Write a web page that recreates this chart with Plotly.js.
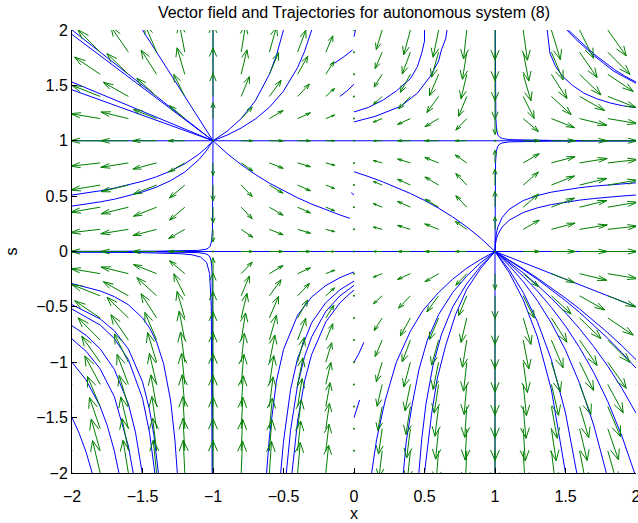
<!DOCTYPE html>
<html><head><meta charset="utf-8">
<script src="https://cdn.plot.ly/plotly-3.0.1.min.js"></script>
<style>html,body{margin:0;padding:0;background:#fff}</style>
</head><body>
<div id="chart" style="width:638px;height:523px"></div>
<script>
// grid of the vector field
const gridX = [-2,-1.8,-1.6,-1.4,-1.2,-1,-0.8,-0.6,-0.4,-0.2,0,0.2,0.4,0.6,0.8,1,1.2,1.4,1.6,1.8,2];
const gridS = [-2,-1.8,-1.6,-1.4,-1.2,-1,-0.8,-0.6,-0.4,-0.2,0,0.2,0.4,0.6,0.8,1,1.2,1.4,1.6,1.8,2];

// drawn arrow components (data units), rows follow gridS, columns follow gridX
const arrowU = [
 [-0.072,-0.054,-0.038,-0.024,-0.011,0,0.009,0.015,0.019,0.020,0,-0.020,-0.019,-0.015,-0.009,0,0.011,0.024,0.038,0.054,0.072],
 [-0.083,-0.064,-0.045,-0.028,-0.013,0,0.010,0.018,0.022,0.023,0,-0.023,-0.022,-0.018,-0.010,0,0.013,0.028,0.045,0.064,0.083],
 [-0.098,-0.076,-0.054,-0.034,-0.015,0,0.012,0.021,0.026,0.026,0,-0.026,-0.026,-0.021,-0.012,0,0.015,0.034,0.054,0.076,0.098],
 [-0.115,-0.090,-0.065,-0.041,-0.019,0,0.015,0.026,0.032,0.031,0,-0.031,-0.032,-0.026,-0.015,0,0.019,0.041,0.065,0.090,0.115],
 [-0.135,-0.109,-0.080,-0.051,-0.023,0,0.019,0.031,0.038,0.036,0,-0.036,-0.038,-0.031,-0.019,0,0.023,0.051,0.080,0.109,0.135],
 [-0.158,-0.131,-0.099,-0.064,-0.030,0,0.023,0.039,0.047,0.042,0,-0.042,-0.047,-0.039,-0.023,0,0.030,0.064,0.099,0.131,0.158],
 [-0.181,-0.157,-0.124,-0.083,-0.040,0,0.031,0.050,0.058,0.050,0,-0.050,-0.058,-0.050,-0.031,0,0.040,0.083,0.124,0.157,0.181],
 [-0.200,-0.181,-0.152,-0.110,-0.055,0,0.041,0.065,0.071,0.057,0,-0.057,-0.071,-0.065,-0.041,0,0.055,0.110,0.152,0.181,0.200],
 [-0.213,-0.200,-0.178,-0.140,-0.078,0,0.058,0.083,0.084,0.062,0,-0.062,-0.084,-0.083,-0.058,0,0.078,0.140,0.178,0.200,0.213],
 [-0.219,-0.210,-0.194,-0.164,-0.108,0,0.078,0.097,0.091,0.063,0,-0.063,-0.091,-0.097,-0.078,0,0.108,0.164,0.194,0.210,0.219],
 [-0.221,-0.212,-0.198,-0.171,-0.118,0,0.083,0.099,0.091,0.062,0,-0.062,-0.091,-0.099,-0.083,0,0.118,0.171,0.198,0.212,0.221],
 [-0.220,-0.211,-0.196,-0.168,-0.114,0,0.082,0.098,0.091,0.063,0,-0.063,-0.091,-0.098,-0.082,0,0.114,0.168,0.196,0.211,0.220],
 [-0.219,-0.210,-0.194,-0.164,-0.108,0,0.078,0.097,0.091,0.063,0,-0.063,-0.091,-0.097,-0.078,0,0.108,0.164,0.194,0.210,0.219],
 [-0.219,-0.210,-0.194,-0.164,-0.108,0,0.078,0.097,0.091,0.063,0,-0.063,-0.091,-0.097,-0.078,0,0.108,0.164,0.194,0.210,0.219],
 [-0.220,-0.211,-0.196,-0.168,-0.114,0,0.082,0.098,0.091,0.063,0,-0.063,-0.091,-0.098,-0.082,0,0.114,0.168,0.196,0.211,0.220],
 [-0.221,-0.212,-0.198,-0.171,-0.118,0,0.083,0.099,0.091,0.062,0,-0.062,-0.091,-0.099,-0.083,0,0.118,0.171,0.198,0.212,0.221],
 [-0.219,-0.210,-0.194,-0.164,-0.108,0,0.078,0.097,0.091,0.063,0,-0.063,-0.091,-0.097,-0.078,0,0.108,0.164,0.194,0.210,0.219],
 [-0.213,-0.200,-0.178,-0.140,-0.078,0,0.058,0.083,0.084,0.062,0,-0.062,-0.084,-0.083,-0.058,0,0.078,0.140,0.178,0.200,0.213],
 [-0.200,-0.181,-0.152,-0.110,-0.055,0,0.041,0.065,0.071,0.057,0,-0.057,-0.071,-0.065,-0.041,0,0.055,0.110,0.152,0.181,0.200],
 [-0.181,-0.157,-0.124,-0.083,-0.040,0,0.031,0.050,0.058,0.050,0,-0.050,-0.058,-0.050,-0.031,0,0.040,0.083,0.124,0.157,0.181],
 [-0.158,-0.131,-0.099,-0.064,-0.030,0,0.023,0.039,0.047,0.042,0,-0.042,-0.047,-0.039,-0.023,0,0.030,0.064,0.099,0.131,0.158]
];
const arrowV = [
 [0.286,0.292,0.295,0.296,0.296,0.294,0.290,0.285,0.275,0.249,0,-0.249,-0.275,-0.285,-0.290,-0.294,-0.296,-0.296,-0.295,-0.292,-0.286],
 [0.280,0.287,0.292,0.294,0.293,0.291,0.287,0.281,0.269,0.240,0,-0.240,-0.269,-0.281,-0.287,-0.291,-0.293,-0.294,-0.292,-0.287,-0.280],
 [0.271,0.281,0.287,0.290,0.291,0.288,0.283,0.275,0.262,0.229,0,-0.229,-0.262,-0.275,-0.283,-0.288,-0.291,-0.290,-0.287,-0.281,-0.271],
 [0.257,0.271,0.281,0.286,0.287,0.284,0.278,0.268,0.252,0.215,0,-0.215,-0.252,-0.268,-0.278,-0.284,-0.287,-0.286,-0.281,-0.271,-0.257],
 [0.238,0.257,0.271,0.279,0.281,0.278,0.271,0.259,0.239,0.198,0,-0.198,-0.239,-0.259,-0.271,-0.278,-0.281,-0.279,-0.271,-0.257,-0.238],
 [0.211,0.235,0.255,0.268,0.273,0.270,0.261,0.246,0.222,0.176,0,-0.176,-0.222,-0.246,-0.261,-0.270,-0.273,-0.268,-0.255,-0.235,-0.211],
 [0.173,0.201,0.229,0.250,0.261,0.258,0.245,0.226,0.197,0.148,0,-0.148,-0.197,-0.226,-0.245,-0.258,-0.261,-0.250,-0.229,-0.201,-0.173],
 [0.128,0.155,0.187,0.219,0.239,0.239,0.221,0.195,0.162,0.114,0,-0.114,-0.162,-0.195,-0.221,-0.239,-0.239,-0.219,-0.187,-0.155,-0.128],
 [0.080,0.100,0.128,0.164,0.199,0.206,0.179,0.145,0.112,0.072,0,-0.072,-0.112,-0.145,-0.179,-0.206,-0.199,-0.164,-0.128,-0.100,-0.080],
 [0.035,0.045,0.060,0.082,0.117,0.143,0.104,0.073,0.052,0.032,0,-0.032,-0.052,-0.073,-0.104,-0.143,-0.117,-0.082,-0.060,-0.045,-0.035],
 [0,0,0,0,0,0,0,0,0,0,0,0,0,0,0,0,0,0,0,0,0],
 [-0.024,-0.030,-0.040,-0.056,-0.083,-0.113,-0.072,-0.049,-0.035,-0.021,0,0.021,0.035,0.049,0.072,0.113,0.083,0.056,0.040,0.030,0.024],
 [-0.035,-0.045,-0.060,-0.082,-0.117,-0.143,-0.104,-0.073,-0.052,-0.032,0,0.032,0.052,0.073,0.104,0.143,0.117,0.082,0.060,0.045,0.035],
 [-0.035,-0.045,-0.060,-0.082,-0.117,-0.143,-0.104,-0.073,-0.052,-0.032,0,0.032,0.052,0.073,0.104,0.143,0.117,0.082,0.060,0.045,0.035],
 [-0.024,-0.030,-0.040,-0.056,-0.083,-0.113,-0.072,-0.049,-0.035,-0.021,0,0.021,0.035,0.049,0.072,0.113,0.083,0.056,0.040,0.030,0.024],
 [0,0,0,0,0,0,0,0,0,0,0,0,0,0,0,0,0,0,0,0,0],
 [0.035,0.045,0.060,0.082,0.117,0.143,0.104,0.073,0.052,0.032,0,-0.032,-0.052,-0.073,-0.104,-0.143,-0.117,-0.082,-0.060,-0.045,-0.035],
 [0.080,0.100,0.128,0.164,0.199,0.206,0.179,0.145,0.112,0.072,0,-0.072,-0.112,-0.145,-0.179,-0.206,-0.199,-0.164,-0.128,-0.100,-0.080],
 [0.128,0.155,0.187,0.219,0.239,0.239,0.221,0.195,0.162,0.114,0,-0.114,-0.162,-0.195,-0.221,-0.239,-0.239,-0.219,-0.187,-0.155,-0.128],
 [0.173,0.201,0.229,0.250,0.261,0.258,0.245,0.226,0.197,0.148,0,-0.148,-0.197,-0.226,-0.245,-0.258,-0.261,-0.250,-0.229,-0.201,-0.173],
 [0.211,0.235,0.255,0.268,0.273,0.270,0.261,0.246,0.222,0.176,0,-0.176,-0.222,-0.246,-0.261,-0.270,-0.273,-0.268,-0.255,-0.235,-0.211]
];

// trajectories (x values and s values, one list per curve)
const trajX = [
 [-2,2],
 [-2,2],
 [-1,-1],
 [1,1],
 [-1.0015,-1.002,-1.003,-1.006,-1.011,-1.021,-1.035,-1.052,-1.106,-1.223,-1.401,-1.668,-2],
 [-1.006,-1.008,-1.012,-1.024,-1.045,-1.088,-1.148,-1.227,-1.313,-1.506,-1.674,-2],
 [-1,-1.001,-1.004,-1.009,-1.019,-1.033,-1.05,-1.104,-1.221,-1.398,-1.665,-2],
 [1,1.001,1.004,1.009,1.019,1.033,1.05,1.104,1.221,1.398,1.665,2],
 [1.002,1.003,1.006,1.011,1.021,1.035,1.052,1.106,1.224,1.401,1.667,2],
 [-1,-2],
 [-1,-2],
 [-1,-1.5],
 [-1,-2],
 [-1,-2],
 [-1,-0.95,-0.9,-0.8,-0.7,-0.6,-0.55,-0.5],
 [-1,-0.9,-0.8,-0.7,-0.6,-0.5,-0.4,-0.35,-0.3],
 [-1,-0.95,-0.9,-0.8,-0.7,-0.6,-0.5,-0.4,-0.3,-0.2,-0.1,-0.03],
 [-1,-1.05,-1.1,-1.2,-1.3,-1.4,-1.5,-1.6,-1.7,-1.8,-1.9,-2],
 [-1,-1.05,-1.1,-1.2,-1.3,-1.4,-1.5,-1.6,-1.7,-1.8,-1.9,-2],
 [-2,-1.8,-1.7,-1.6,-1.5,-1.45,-1.4,-1.35,-1.3,-1.27,-1.253],
 [-2,-1.8,-1.7,-1.6,-1.5,-1.45,-1.42,-1.387],
 [-2,-1.8,-1.7,-1.6,-1.5,-1.45,-1.4125],
 [-2,-1.9,-1.8,-1.7,-1.6,-1.55,-1.502],
 [-2,-1.9,-1.8,-1.7,-1.6,-1.566],
 [-2,-1.9,-1.8,-1.75,-1.7,-1.667],
 [-2,-1.95,-1.9,-1.857],
 [-0.62,-0.6,-0.55,-0.5,-0.4,-0.3,-0.2,-0.1,-0.03,0],
 [-0.52,-0.5,-0.45,-0.4,-0.3,-0.2,-0.1,-0.03,0],
 [-0.48,-0.45,-0.4,-0.35,-0.3,-0.2,-0.1,-0.03,0],
 [-0.44,-0.4,-0.35,-0.3,-0.2,-0.1,-0.03,0],
 [1,0.98,0.95,0.9,0.8,0.7,0.6,0.5,0.4,0.3,0.2,0.1,0],
 [1,1.001,1.003,1.01,1.02,1.05,1.1,1.2,1.3,1.4,1.5,1.6,1.7,1.8,1.9,2],
 [1,1.001,1.003,1.01,1.02,1.05,1.1,1.2,1.3,1.4,1.5,1.6,1.7,1.8,1.9,2],
 [1,2],
 [1,1.1,1.2,1.3,1.4,1.5,1.6,1.7,1.8,1.9,2],
 [1,1.1,1.2,1.3,1.4,1.5,1.6,1.7,1.8,1.9,2],
 [1,1.1,1.2,1.3,1.4,1.5,1.6,1.7,1.8,1.9,2],
 [1,1.1,1.2,1.3,1.4,1.5,1.6,1.7,1.8,1.9,1.99],
 [1,1.1,1.2,1.3,1.4,1.5,1.6,1.7,1.79],
 [1,1.1,1.2,1.3,1.4,1.5,1.58],
 [1,1.1,1.2,1.3,1.4,1.5],
 [1,0.9,0.8,0.7,0.6,0.49,0.4,0.3,0.22,0.16,0.125],
 [1,0.9,0.8,0.7,0.6,0.52,0.46,0.41,0.37,0.35],
 [1,0.9,0.8,0.7,0.62,0.56,0.51,0.48,0.46],
 [1,0.9,0.8,0.72,0.65,0.59,0.55,0.52,0.5],
 [1.37,1.39,1.43,1.48,1.55,1.63,1.72,1.82,1.91,2],
 [1.51,1.57,1.63,1.7,1.77,1.84,1.91,2],
 [1.52,1.58,1.64,1.71,1.78,1.85,1.92,2],
 [0,0.1,0.21,0.3,0.4,0.45,0.48,0.5,0.5],
 [0,0.15,0.33,0.45,0.54,0.6,0.62,0.65,0.66],
 [-0.14,-0.07,-0.01],
 [-0.10,-0.05,0],
 [0,0.035,0.07],
 [0,0.02,0.04],
 [-0.02,0],
 [0,0.01]
];
const trajS = [
 [1,1],
 [0,0],
 [1,2],
 [-2,0],
 [-2,-1,-0.5,-0.2,-0.1,-0.05,-0.03,-0.02,-0.01,-0.005,-0.003,-0.002,-0.0015],
 [-2,-1,-0.5,-0.2,-0.1,-0.05,-0.03,-0.02,-0.015,-0.01,-0.008,-0.006],
 [1,0.5,0.2,0.1,0.05,0.03,0.02,0.01,0.005,0.003,0.002,0.0015],
 [0,0.5,0.8,0.9,0.95,0.97,0.98,0.99,0.995,0.997,0.998,0.9985],
 [2,1.5,1.2,1.1,1.05,1.03,1.02,1.01,1.005,1.003,1.002,1.0015],
 [1,2],
 [1,1.96],
 [1,2],
 [1,1.53],
 [1,1.46],
 [1,1.04,1.086,1.2,1.36,1.6,1.771,2],
 [1,1.051,1.115,1.196,1.302,1.448,1.661,1.809,2],
 [1,0.94,0.885,0.784,0.696,0.617,0.548,0.485,0.428,0.377,0.33,0.3],
 [1,0.934,0.879,0.792,0.727,0.675,0.634,0.601,0.572,0.548,0.528,0.51],
 [1,0.905,0.83,0.718,0.64,0.582,0.537,0.501,0.472,0.448,0.427,0.41],
 [-0.29,-0.356,-0.407,-0.481,-0.6,-0.69,-0.817,-1.014,-1.351,-1.704,-2],
 [-0.48,-0.609,-0.715,-0.881,-1.176,-1.43,-1.652,-2],
 [-0.52,-0.664,-0.785,-0.976,-1.326,-1.637,-2],
 [-0.67,-0.757,-0.879,-1.064,-1.377,-1.631,-2],
 [-0.79,-0.901,-1.06,-1.31,-1.757,-2],
 [-1,-1.16,-1.4,-1.572,-1.8,-2],
 [-1.5,-1.639,-1.812,-2],
 [-2,-1.674,-1.17,-0.885,-0.575,-0.41,-0.307,-0.2365,-0.199,-0.185],
 [-2,-1.715,-1.247,-0.965,-0.642,-0.4615,-0.3465,-0.288,-0.267],
 [-2,-1.614,-1.205,-0.947,-0.77,-0.541,-0.401,-0.331,-0.306],
 [-2,-1.531,-1.167,-0.928,-0.636,-0.464,-0.38,-0.35],
 [0,0.0253,0.0618,0.119,0.222,0.312,0.391,0.4615,0.524,0.581,0.631,0.678,0.72],
 [0,0.0595,0.0986,0.166,0.219,0.306,0.381,0.46,0.505,0.536,0.558,0.576,0.59,0.602,0.611,0.62],
 [0,0.0387,0.065,0.113,0.152,0.22,0.282,0.352,0.394,0.424,0.446,0.464,0.478,0.491,0.501,0.51],
 [0,-0.5],
 [0,-0.076,-0.156,-0.24,-0.328,-0.421,-0.519,-0.624,-0.734,-0.851,-0.976],
 [0,-0.079,-0.163,-0.251,-0.345,-0.444,-0.55,-0.664,-0.784,-0.914,-1.053],
 [0,-0.093,-0.193,-0.303,-0.422,-0.553,-0.697,-0.858,-1.035,-1.235,-1.46],
 [0,-0.106,-0.224,-0.356,-0.505,-0.674,-0.868,-1.092,-1.355,-1.667,-2],
 [0,-0.126,-0.272,-0.443,-0.646,-0.89,-1.19,-1.567,-2],
 [0,-0.164,-0.369,-0.631,-0.977,-1.458,-2],
 [0,-0.189,-0.435,-0.769,-1.25,-2],
 [0,-0.07,-0.15,-0.25,-0.37,-0.53,-0.72,-1.0,-1.35,-1.7,-2],
 [0,-0.1,-0.22,-0.37,-0.57,-0.8,-1.07,-1.4,-1.72,-2],
 [0,-0.13,-0.29,-0.5,-0.75,-1.03,-1.38,-1.7,-2],
 [0,-0.15,-0.34,-0.57,-0.85,-1.15,-1.47,-1.76,-2],
 [2,1.79,1.67,1.58,1.5,1.43,1.38,1.34,1.315,1.3],
 [2,1.92,1.85,1.77,1.7,1.63,1.58,1.52],
 [2,1.925,1.855,1.775,1.705,1.64,1.585,1.53],
 [1.26,1.30,1.37,1.45,1.56,1.67,1.79,1.9,2],
 [1.17,1.22,1.31,1.43,1.58,1.72,1.82,1.92,2],
 [1.70,1.76,1.82],
 [1.40,1.45,1.51],
 [-1.0,-0.92,-0.82],
 [-1.5,-1.42,-1.34],
 [0.53,0.51],
 [1.94,2.0]
];

// build traces
const tx = [], ty = [];
for (let k = 0; k < trajX.length; k++) {
  for (let i = 0; i < trajX[k].length; i++) { tx.push(trajX[k][i]); ty.push(trajS[k][i]); }
  tx.push(null); ty.push(null);
}
const ax = [], ay = [], dx = [], dy = [];
const alpha = 0.33, beta = 0.33;
for (let i = 0; i < gridS.length; i++) {
  for (let j = 0; j < gridX.length; j++) {
    const x0 = gridX[j], y0 = gridS[i], u = arrowU[i][j], v = arrowV[i][j];
    if (u === 0 && v === 0) { dx.push(x0); dy.push(y0); continue; }
    const x1 = x0 + u, y1 = y0 + v;
    ax.push(x0, x1, null); ay.push(y0, y1, null);
    ax.push(x1 - alpha*(u + beta*v), x1, x1 - alpha*(u - beta*v), null);
    ay.push(y1 - alpha*(v - beta*u), y1, y1 - alpha*(v + beta*u), null);
  }
}
const green = 'rgb(0,128,0)';
const data = [
  {type:'scatter', mode:'lines', x:tx, y:ty, line:{color:'rgb(0,0,255)', width:1}, hoverinfo:'skip', connectgaps:false},
  {type:'scatter', mode:'lines', x:ax, y:ay, line:{color:green, width:1}, hoverinfo:'skip', connectgaps:false},
  {type:'scatter', mode:'markers', x:dx, y:dy, marker:{color:green, size:2}, hoverinfo:'skip'}
];
const font = 'Liberation Sans, Arial, Helvetica, sans-serif';
const ticks = [-2,-1.5,-1,-0.5,0,0.5,1,1.5,2];
const tickLabels = ['\u22122','\u22121.5','\u22121','\u22120.5','0','0.5','1','1.5','2'];
const layout = {
  width:638, height:523,
  margin:{l:72, r:2, t:30, b:50},
  paper_bgcolor:'#fff', plot_bgcolor:'#fff',
  showlegend:false,
  font:{family:font, size:16, color:'#000'},
  title:{text:'Vector field and Trajectories for autonomous system (8)', font:{family:font, size:16, color:'#000'},
         x:0.5, xref:'paper', xanchor:'center', y:0.977, yref:'container', yanchor:'middle'},
  xaxis:{range:[-2,2], tickvals:ticks, ticktext:tickLabels, ticklabeloverflow:'allow',
         ticks:'inside', ticklen:5, tickcolor:'#000', showline:true, linecolor:'#000', linewidth:1,
         zeroline:false, showgrid:false, tickfont:{size:16, color:'#000'}, ticklabelstandoff:9,
         title:{text:'x', font:{size:16, color:'#000'}, standoff:2}},
  yaxis:{range:[-2,2], tickvals:ticks, ticktext:tickLabels,
         ticks:'inside', ticklen:5, tickcolor:'#000', showline:true, linecolor:'#000', linewidth:1,
         zeroline:false, showgrid:false, tickfont:{size:16, color:'#000'},
         title:{text:'s', font:{size:16, color:'#000'}, standoff:14}}
};
Plotly.newPlot('chart', data, layout, {staticPlot:true, displayModeBar:false});
</script>
</body></html>
